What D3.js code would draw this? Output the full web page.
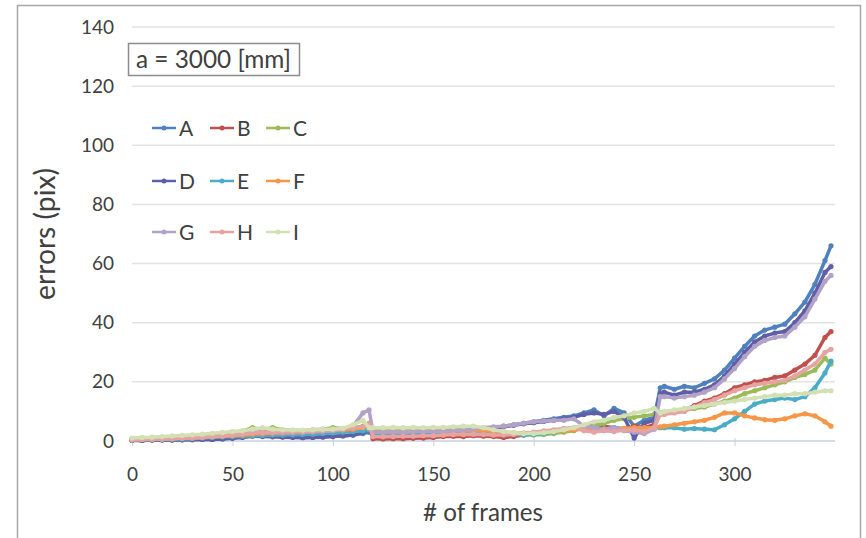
<!DOCTYPE html>
<html>
<head>
<meta charset="utf-8">
<script src="https://cdn.jsdelivr.net/npm/d3@7"></script>
<style>
  html, body { margin: 0; padding: 0; background: #fff; }
  svg text { font-family: Lato, "Open Sans", sans-serif; fill: #404040; }
</style>
</head>
<body>
<svg id="chart" width="866" height="538"></svg>
<script>
// frame numbers shared by all series
const frames = [
  0,5,10,15,20,25,30,35,40,45,50,55,60,65,70,75,80,85,90,95,100,105,110,115,
  118,
  120,125,130,135,140,145,150,155,160,165,170,175,180,185,190,195,200,205,210,215,220,
  225,230,235,240,245,250,255,260,
  263,
  265,270,275,280,285,290,295,300,305,310,315,320,325,330,335,340,345,
  348
];

const seriesA = [
  0.3,0.2,0.3,0.4,0.3,0.4,0.5,0.6,0.5,0.8,1.0,1.5,2.0,1.8,1.6,1.5,1.4,1.2,1.3,1.5,1.6,1.8,2.0,2.5,
  3.0,
  2.5,2.3,2.4,2.5,2.6,2.5,2.7,2.8,3.0,3.2,3.5,4.0,4.5,5.0,5.5,6.0,6.5,7.0,7.5,8.0,8.5,
  9.5,10.5,8.5,11,9.5,5,7,8,
  18,
  18.5,17.5,18.5,18,19.5,21,24,28,32,35.5,37.5,38.5,39.5,43,47,53,61,
  66
];
const seriesB = [
  0.3,0.4,0.5,0.6,0.7,0.9,1.0,1.2,1.4,1.6,1.9,2.2,2.6,2.8,2.9,3.0,3.0,3.1,3.3,3.5,3.8,4.0,4.2,4.5,
  5.0,
  0.8,0.7,0.8,0.8,0.9,1.0,1.2,1.5,1.6,1.5,1.8,1.6,1.5,1.2,1.5,2.0,2.5,3.0,3.5,4.0,4.5,
  5,5.5,5,4.5,4,5,4.5,5.5,
  9.5,
  9.5,10,10.5,12,13.5,14.5,16,18,19,20,20.5,21.5,22,24,26,29,35,
  37
];
const seriesC = [
  0.8,0.9,1.0,1.1,1.3,1.5,1.7,2.0,2.3,2.6,3.0,3.3,4.5,3.8,4.5,3.8,3.6,3.5,3.8,4.0,4.5,4.2,4.5,5.0,
  4.0,
  4.0,4.0,4.1,4.0,4.2,4.1,4.2,4.3,4.2,4.0,4.5,4.0,3.5,3.0,2.5,2.2,2.0,2.2,2.5,3.0,3.5,
  4.5,5,6,7,7.5,8,8.5,9,
  9.5,
  9.8,10,10.5,11,11.5,12.5,13.5,14.5,16,17,18,19,20,21.5,22.5,24,28,
  26
];
const seriesD = [
  0.2,0.2,0.3,0.3,0.3,0.4,0.4,0.5,0.5,0.7,0.9,1.2,1.6,1.5,1.4,1.3,1.2,1.1,1.2,1.3,1.5,1.7,2.0,3.0,
  5.0,
  2.2,2.0,2.2,2.3,2.4,2.4,2.5,2.6,2.8,3.0,3.3,3.8,4.3,4.8,5.3,5.8,6.2,6.6,7.0,7.5,8.0,
  9.0,9.5,9.0,10,8,1.0,6,7,
  16,
  16.5,15.5,16.5,16.5,17.5,19,22,26,30,33.5,35.5,36.5,37,40,44,50,57,
  59
];
const seriesE = [
  0.3,0.4,0.5,0.5,0.6,0.7,0.8,1.0,1.2,1.4,1.5,1.6,1.8,1.9,2.0,2.0,2.1,2.2,2.3,2.5,2.7,3.0,3.2,3.5,
  4.0,
  2.5,2.6,2.6,2.7,2.8,2.8,2.9,3.0,3.0,3.1,3.2,3.0,2.8,2.5,2.3,2.0,2.2,2.5,3.0,3.5,4.0,
  4.5,4.2,4.0,4.5,4.2,4.0,4.5,4.5,
  4.5,
  4.5,4.5,4.0,4.2,4.0,3.8,5.5,7.5,10,12.5,13.5,14,14.5,14,15,18,23,
  27
];
const seriesF = [
  0.4,0.5,0.6,0.7,0.8,0.9,1.0,1.2,1.4,1.6,1.8,2.0,2.3,2.5,2.6,2.7,2.8,3.0,3.1,3.3,3.5,3.7,4.0,4.5,
  6.0,
  3.0,3.0,3.1,3.2,3.2,3.3,3.3,3.4,3.5,3.5,3.6,3.5,3.3,3.0,2.8,2.7,2.8,3.0,3.2,3.5,3.8,
  4.0,3.8,4.0,4.2,4.3,4.5,4.5,4.6,
  4.8,
  5,5.5,6,6.5,7,8,9.5,9.5,8.5,7.8,7.2,7,7.5,8.5,9.2,8.5,6.5,
  5
];
const seriesG = [
  0.5,0.6,0.7,0.8,0.9,1.0,1.1,1.3,1.5,1.8,2.2,2.6,3.0,3.0,2.8,2.8,2.9,3.0,3.1,3.2,3.5,4.0,5.0,9.5,
  10.5,
  3.0,3.0,3.1,3.0,3.2,3.2,3.3,3.4,3.5,3.8,4.0,4.5,4.8,5.0,5.5,6.0,6.5,6.8,7.0,7.0,7.5,
  5,4.5,4,4.5,3.5,3,2.5,4,
  15,
  15,14.5,15,15.5,16.5,18,21,24.5,28.5,32,34,35,35.5,38.5,42,48,54,
  56
];
const seriesH = [
  0.4,0.5,0.6,0.7,0.8,1.0,1.1,1.3,1.5,1.7,2.0,2.3,2.7,2.9,3.0,3.1,3.1,3.2,3.4,3.6,3.9,4.2,4.4,4.8,
  5.5,
  1.5,1.4,1.5,1.6,1.6,1.8,1.8,2.0,2.2,2.2,2.3,2.2,2.0,2.0,2.2,2.5,3.0,3.4,3.8,4.2,4.6,
  3.5,3.0,3.5,3.2,3.6,3.8,3.2,4.5,
  9,
  9,9.5,10,11.5,13,14,15.5,17,18,19,19.5,20,20.5,22,24,26,30,
  31
];
const seriesI = [
  1.0,1.2,1.3,1.5,1.7,1.9,2.1,2.3,2.6,2.9,3.2,3.5,4.0,4.5,4.0,3.8,3.7,3.7,3.8,4.0,4.0,4.3,5.5,7.0,
  4.5,
  4.5,4.5,4.6,4.5,4.6,4.5,4.6,4.6,4.8,5.0,5.0,4.5,3.8,3.2,2.8,2.5,2.5,2.8,3.2,3.8,4.5,
  5.5,6.5,7,8,8.5,9.5,10,11,
  9.5,
  10,10.5,11,11.5,12,12.5,13,13.5,14,14.5,15,15.5,15.5,16,16,16.5,17,
  17
];

const seriesNames = ["A","B","C","D","E","F","G","H","I"];
const seriesValues = [seriesA, seriesB, seriesC, seriesD, seriesE, seriesF, seriesG, seriesH, seriesI];
const seriesColors = ["#4F81BD","#C0504D","#9BBB59","#5F5FA8","#4BACC6","#F79646","#B3A2C7","#E6A3A1","#D2E0B4"];

const yTicks = [0,20,40,60,80,100,120,140];
const xTicks = [0,50,100,150,200,250,300];
const xTitle = "# of frames";
const yTitle = "errors (pix)";
const boxLabel = "a = 3000 [mm]";

const svg = d3.select("#chart");

// scale a text's font size so that it spans the given width
function fitText(sel, width) {
  const w = sel.node().getBBox().width;
  const fs = parseFloat(sel.style("font-size"));
  sel.style("font-size", (fs * width / w).toFixed(2) + "px");
}

// outer chart frame
svg.append("rect")
  .attr("x", 17.5).attr("y", 5.5).attr("width", 843).attr("height", 545)
  .attr("fill", "#fff").attr("stroke", "#a6a6a6").attr("stroke-width", 1.5);

const x = d3.scaleLinear().domain([0, 350]).range([132, 835]);
const y = d3.scaleLinear().domain([0, 140]).range([441, 27]);

// horizontal gridlines
svg.append("g")
  .selectAll("line")
  .data(yTicks.filter(d => d > 0))
  .join("line")
  .attr("x1", x(0)).attr("x2", x(350))
  .attr("y1", d => y(d)).attr("y2", d => y(d))
  .attr("stroke", "#e3e3e3").attr("stroke-width", 1.5);

// y axis labels
const yAxis = svg.append("g")
  .attr("transform", `translate(${x(0) - 18},0)`)
  .call(d3.axisLeft(y).tickValues(yTicks).tickSize(0).tickPadding(0));
yAxis.select(".domain").remove();
yAxis.selectAll("text")
  .style("font-size", "19px").style("font-family", "Lato, 'Open Sans', sans-serif")
  .attr("fill", "#404040");

// x axis at zero
const xAxis = svg.append("g")
  .attr("transform", `translate(0,${y(0)})`)
  .call(d3.axisBottom(x).tickValues(xTicks).tickSize(5).tickPadding(22).tickSizeOuter(0));
xAxis.select(".domain").attr("stroke", "#c5d0df").attr("stroke-width", 1.5)
  .attr("d", `M${x(0)},0H${x(350)}`);
xAxis.selectAll(".tick line").attr("stroke", "#c5d0df").attr("y1", -3);
xAxis.selectAll("text")
  .style("font-size", "19px").style("font-family", "Lato, 'Open Sans', sans-serif")
  .attr("fill", "#404040");

// axis titles
const xt = svg.append("text")
  .attr("x", 483).attr("y", 521)
  .attr("text-anchor", "middle")
  .style("font-size", "19px")
  .text(xTitle);
fitText(xt, 120);
const yt = svg.append("text")
  .attr("transform", `translate(55,234) rotate(-90)`)
  .attr("text-anchor", "middle")
  .style("font-size", "19px")
  .text(yTitle);
fitText(yt, 132);

// data series
const line = d3.line()
  .x((d, i) => x(frames[i]))
  .y(d => y(d));

const seriesLayer = svg.append("g");
seriesValues.forEach((vals, k) => {
  const g = seriesLayer.append("g");
  g.append("path")
    .datum(vals)
    .attr("d", line)
    .attr("fill", "none")
    .attr("stroke", seriesColors[k])
    .attr("stroke-width", 3.5)
    .attr("stroke-linejoin", "round");
  g.selectAll("circle")
    .data(vals)
    .join("circle")
    .attr("cx", (d, i) => x(frames[i]))
    .attr("cy", d => y(d))
    .attr("r", 2.6)
    .attr("fill", seriesColors[k]);
});

// annotation box
svg.append("rect")
  .attr("x", 128.5).attr("y", 43.5).attr("width", 171).attr("height", 32)
  .attr("fill", "#fff").attr("stroke", "#8c8c8c").attr("stroke-width", 1.5);
const bt = svg.append("text")
  .attr("x", 136).attr("y", 68)
  .style("font-size", "19px")
  .text(boxLabel);
fitText(bt, 155);

// legend, three columns
const legendCols = [152, 210, 266];
const legendRows = [128, 181, 232];
const legend = svg.append("g");
seriesNames.forEach((name, k) => {
  const cx = legendCols[k % 3], cy = legendRows[Math.floor(k / 3)];
  const item = legend.append("g");
  item.append("line")
    .attr("x1", cx).attr("x2", cx + 24)
    .attr("y1", cy).attr("y2", cy)
    .attr("stroke", seriesColors[k]).attr("stroke-width", 2.5);
  item.append("circle")
    .attr("cx", cx + 12).attr("cy", cy).attr("r", 2.5)
    .attr("fill", seriesColors[k]);
  item.append("text")
    .attr("x", cx + 27).attr("y", cy + 8)
    .style("font-size", "21px")
    .text(name);
});
</script>
</body>
</html>
